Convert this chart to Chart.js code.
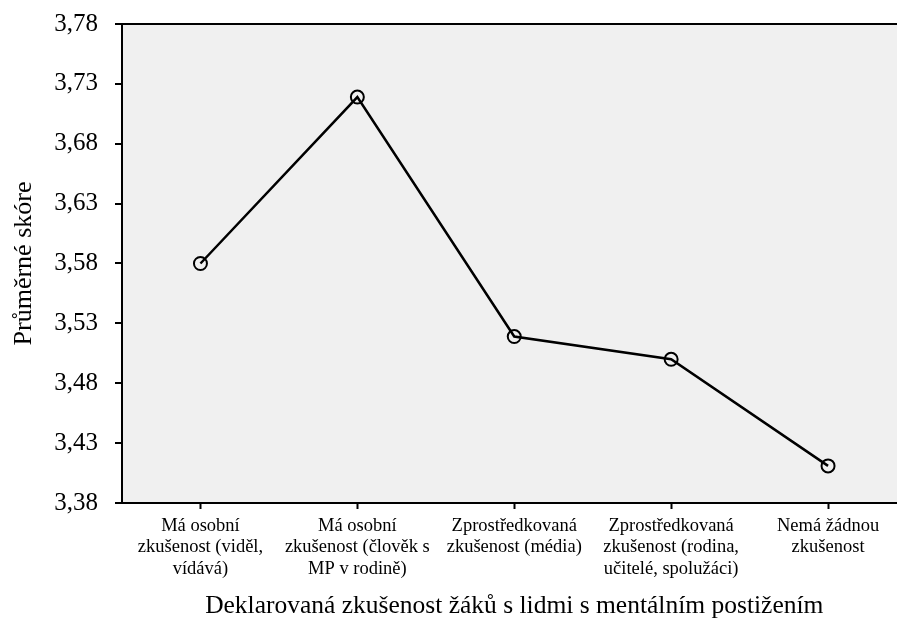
<!DOCTYPE html>
<html lang="cs">
<head>
<meta charset="UTF-8">
<script src="https://cdn.jsdelivr.net/npm/chart.js"></script>
<style>
    html, body { margin: 0; padding: 0; background: #fff; overflow: hidden; }
    #wrap { width: 897px; height: 620px; overflow: hidden; }
</style>
<title>Průměrné skóre</title>
</head>
<body>
<div id="wrap">
    <canvas id="graf" width="915" height="620"></canvas>
</div>
<script>
    // data
    const kategorie = [
        ["Má osobní", "zkušenost (viděl,", "vídává)"],
        ["Má osobní", "zkušenost (člověk s", "MP v rodině)"],
        ["Zprostředkovaná", "zkušenost (média)"],
        ["Zprostředkovaná", "zkušenost (rodina,", "učitelé, spolužáci)"],
        ["Nemá žádnou", "zkušenost"]
    ];
    const prumerneSkore = [3.58, 3.719, 3.519, 3.50, 3.411];
    const yTicks = [3.38, 3.43, 3.48, 3.53, 3.58, 3.63, 3.68, 3.73, 3.78];

    const pozadi = {
        id: 'pozadi',
        beforeDraw(chart) {
            const { ctx, chartArea: a } = chart;
            ctx.save();
            ctx.fillStyle = '#f0f0f0';
            ctx.fillRect(a.left, a.top, a.right - a.left, a.bottom - a.top);
            ctx.restore();
        }
    };

    const serif = 'Liberation Serif, "Times New Roman", serif';

    new Chart(document.getElementById('graf'), {
        type: 'line',
        data: {
            labels: kategorie,
            datasets: [{
                data: prumerneSkore,
                borderColor: '#000',
                borderWidth: 2.5,
                tension: 0,
                pointRadius: 6.5,
                pointHoverRadius: 6.5,
                pointBorderWidth: 2,
                pointBorderColor: '#000',
                pointBackgroundColor: 'transparent'
            }]
        },
        options: {
            responsive: false,
            animation: false,
            layout: { padding: { top: 24, right: 3, left: 0, bottom: 0 } },
            plugins: { legend: { display: false }, tooltip: { enabled: false } },
            scales: {
                x: {
                    offset: true,
                    grid: {
                        offset: false,
                        drawOnChartArea: false,
                        tickLength: 6,
                        tickWidth: 2,
                        color: '#000'
                    },
                    border: { color: '#000', width: 2 },
                    ticks: {
                        color: '#000',
                        padding: 6,
                        maxRotation: 0,
                        autoSkip: false,
                        font: { family: serif, size: 18.5, lineHeight: 1.17 }
                    },
                    title: {
                        display: true,
                        text: 'Deklarovaná zkušenost žáků s lidmi s mentálním postižením',
                        color: '#000',
                        padding: { top: 0, bottom: 0 },
                        font: { family: serif, size: 25.5, lineHeight: 1.1 }
                    },
                    afterFit(scale) {
                        scale.height = 117;
                        scale.paddingLeft = 0;
                        scale.paddingRight = 0;
                    }
                },
                y: {
                    min: 3.38,
                    max: 3.78,
                    afterBuildTicks(scale) {
                        scale.ticks = yTicks.map(v => ({ value: v }));
                    },
                    grid: {
                        drawOnChartArea: true,
                        color: c => c.index === yTicks.length - 1 ? '#000' : 'rgba(0,0,0,0)',
                        lineWidth: 2,
                        tickColor: '#000',
                        tickWidth: 2,
                        tickLength: 7
                    },
                    border: { color: '#000', width: 2 },
                    ticks: {
                        color: '#000',
                        padding: 17,
                        font: { family: serif, size: 25 },
                        callback: v => v.toFixed(2).replace('.', ',')
                    },
                    title: {
                        display: true,
                        text: 'Průměrné skóre',
                        color: '#000',
                        padding: { top: 9, bottom: 0 },
                        font: { family: serif, size: 26, lineHeight: 1.2 }
                    },
                    afterFit(scale) {
                        scale.width = 122;
                        scale.paddingTop = 0;
                        scale.paddingBottom = 0;
                    }
                }
            }
        },
        plugins: [pozadi]
    });
</script>
</body>
</html>
